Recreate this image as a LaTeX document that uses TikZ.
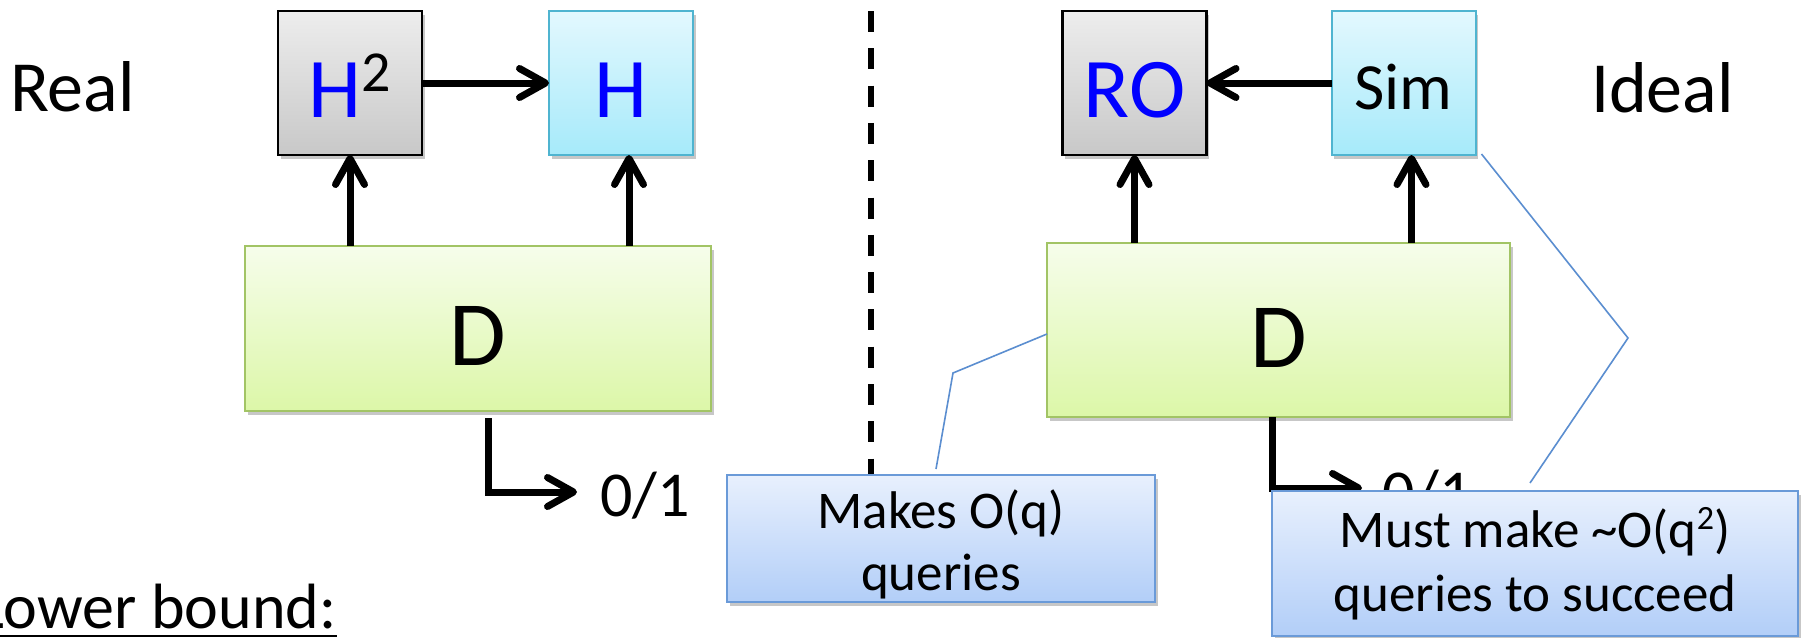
\documentclass[tikz,border=0pt]{standalone}
\usepackage{fontspec}
\setmainfont{Carlito}
\usetikzlibrary{arrows.meta,shadows}

\definecolor{grayT}{HTML}{EDEDED}
\definecolor{grayB}{HTML}{C8C8C8}
\definecolor{cyanT}{HTML}{E3F8FE}
\definecolor{cyanB}{HTML}{A6EAFA}
\definecolor{cyanline}{HTML}{4FB4D0}
\definecolor{greenT}{HTML}{F6FDEB}
\definecolor{greenB}{HTML}{DCF7A8}
\definecolor{greenline}{HTML}{A2C465}
\definecolor{calT}{HTML}{E8F0FD}
\definecolor{calB}{HTML}{B2CEF8}
\definecolor{calline}{HTML}{6A9AD8}
\definecolor{pointer}{HTML}{5B8ED0}
\definecolor{labelblue}{HTML}{0000FF}

% single-line text at a given size
\newcommand{\fsz}[1]{\fontsize{#1}{#1}\selectfont}

\tikzset{
  box/.style={draw, line width=2pt, inner sep=0pt, outer sep=0pt,
    drop shadow={shadow xshift=2.5pt, shadow yshift=-3.5pt, opacity=0.22, fill=black}},
  oracle/.style={box, draw=black, line width=2.8pt, top color=grayT, bottom color=grayB,
    minimum width=144pt, minimum height=144pt},
  simbox/.style={box, draw=cyanline, top color=cyanT, bottom color=cyanB,
    minimum width=144pt, minimum height=144pt},
  distbox/.style={box, draw=greenline, line width=2.5pt, top color=greenT, bottom color=greenB,
    text height=84pt, text depth=10pt, font=\fontsize{92}{110}\selectfont},
  bigtext/.style={text height=78pt, text depth=10pt, font=\fontsize{85}{102}\selectfont},
  simtext/.style={text height=62pt, text depth=10pt, font=\fontsize{66}{80}\selectfont},
  note/.style={box, draw=calline, line width=2.2pt, top color=calT, bottom color=calB, align=center,
    font=\fontsize{53}{62}\selectfont},
  plain/.style={inner sep=0pt, outer sep=0pt},
  arr/.style={line width=7pt, -{Straight Barb[length=26pt, width=29pt, round]}},
  divider/.style={line width=5.5pt, dash pattern=on 21pt off 16.3pt},
  pointerline/.style={draw=pointer, line width=1.6pt},
}

\begin{document}
\begin{tikzpicture}[x=1pt, y=-1pt]
  \useasboundingbox (0,0) rectangle (1801,637);
  \fill[white] (0,0) rectangle (1801,637);

  % ---- real world ----
  \node[plain, anchor=base west, font=\fsz{72}] (real) at (10,111) {Real};
  \node[oracle, bigtext] (H2) at (350,83)
    {\color{labelblue}H\color{black}\raisebox{26pt}{\fontsize{58}{60}\selectfont 2}};
  \node[simbox, bigtext] (H) at (621,83) {\color{labelblue}H};
  \node[distbox, minimum width=466pt, minimum height=165pt] (Dl) at (478,328.5) {D};

  \draw[arr] (H2.east) -- (H.west);
  \draw[arr] (Dl.north -| H2.south) -- (H2.south);
  \draw[arr] ([xshift=8pt]Dl.north -| H.south) -- ([xshift=8pt]H.south);

  \coordinate (o1) at (577,492);
  \draw[arr] ([xshift=10pt, yshift=-7pt]Dl.south) |- (o1);
  \node[plain, anchor=base west, font=\fsz{64}] (out1) at (600,516) {0/1};

  % ---- separator ----
  \coordinate (dtop) at (871,11);
  \coordinate (dbot) at (871,520);
  \draw[divider] (dtop) -- (dbot);

  % ---- ideal world ----
  \node[plain, anchor=base west, font=\fsz{72}] (ideal) at (1591,112) {Ideal};
  \node[oracle, bigtext] (RO) at (1134.5,83) {\color{labelblue}RO};
  \node[simbox, simtext] (Sim) at (1403.5,83) {Sim};
  \node[distbox, minimum width=463pt, minimum height=174pt] (Dr) at (1278.5,330) {D};

  \draw[arr] (Sim.west) -- (RO.east);
  \draw[arr] (Dr.north -| RO.south) -- (RO.south);
  \draw[arr] ([xshift=8pt]Dr.north -| Sim.south) -- ([xshift=8pt]Sim.south);

  \coordinate (o2) at (1362,488);
  \draw[arr] ([xshift=-6.5pt]Dr.south) |- (o2);
  \node[plain, anchor=base west, font=\fsz{64}] (out2) at (1382,514) {0/1};

  % ---- callouts ----
  \node[note, minimum width=428pt, minimum height=127pt] (makes) at (941,538.5)
    {\rule{0pt}{50pt}Makes O(q)\\queries};
  \coordinate (mkbend) at (953,373);
  \draw[pointerline] ([xshift=-5pt, yshift=6pt]makes.north) -- (mkbend) -- ([yshift=-4pt]Dr.west);

  \node[note, minimum width=526pt, minimum height=145pt] (must) at (1535,563.5)
    {Must make \textasciitilde O(q\raisebox{18pt}{\fontsize{34}{36}\selectfont 2})\\[2pt]queries to succeed};
  \coordinate (mustbend) at (1628,338);
  \draw[pointerline] ([xshift=-5pt, yshift=8pt]must.north) -- (mustbend) -- ([xshift=6pt, yshift=1pt]Sim.south east);

  % ---- caption ----
  \node[plain, anchor=base west, font=\fsz{64}] (lower) at (-23,628) {Lower bound:};
  \draw[line width=2.5pt] ([yshift=-8pt]lower.base west) -- ([yshift=-8pt]lower.base east);
\end{tikzpicture}
\end{document}
